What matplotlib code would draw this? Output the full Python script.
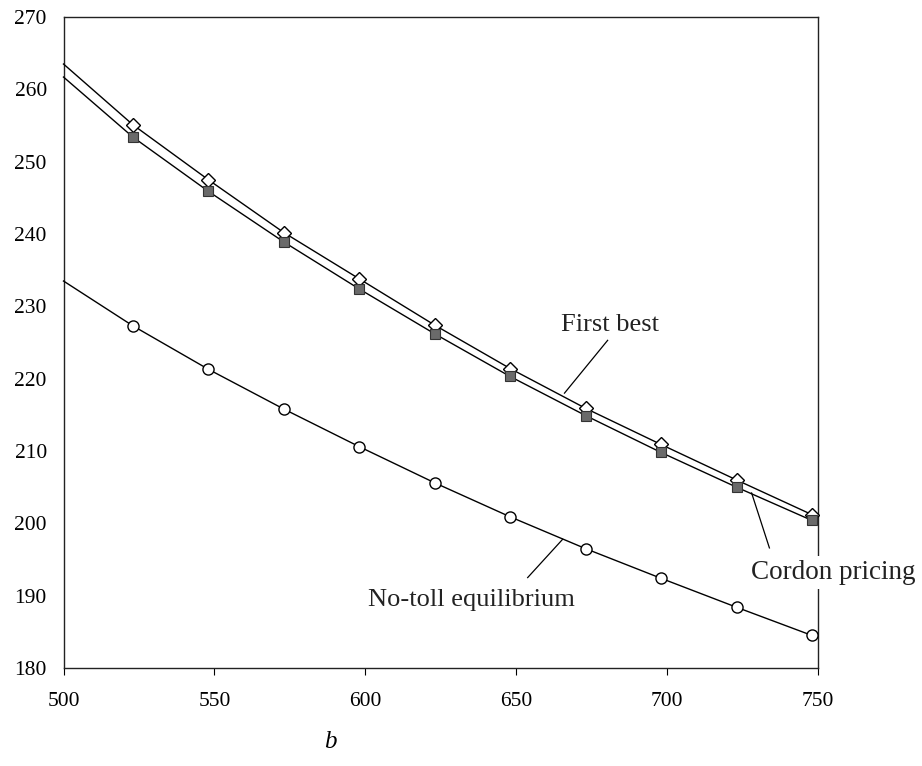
import matplotlib
matplotlib.use("Agg")
import matplotlib.pyplot as plt

# toll level b on the x axis; line starts at the axis edge, markers every 25
b_line_start = 500
b_marks = [523, 548, 573, 598, 623, 648, 673, 698, 723, 748]

first_best_start = 263.5
first_best = [255.1, 247.5, 240.2, 233.8, 227.4, 221.4, 215.9, 210.9, 206.0, 201.2]

cordon_start = 261.7
cordon = [253.4, 245.9, 238.9, 232.4, 226.2, 220.3, 214.9, 209.8, 205.0, 200.4]

no_toll_start = 233.5
no_toll = [227.3, 221.3, 215.8, 210.6, 205.6, 200.9, 196.5, 192.4, 188.4, 184.5]

plt.rcParams["font.family"] = ["Liberation Serif", "DejaVu Serif"]

fig = plt.figure(figsize=(9.22, 7.66), dpi=100, facecolor="white")
ax = fig.add_axes([63.5 / 922, 1 - 668 / 766, (818 - 63.5) / 922, (668 - 17) / 766])

xs = [b_line_start] + b_marks
ax.plot(xs, [first_best_start] + first_best, color="black", lw=1.0, zorder=3, clip_on=False)
ax.plot(b_marks, first_best, ls="none", marker="D", ms=7, mfc="white", mec="black", mew=1.0, zorder=4, clip_on=False)

ax.plot(xs, [cordon_start] + cordon, color="black", lw=1.0, zorder=3, clip_on=False)
ax.plot(b_marks, cordon, ls="none", marker="s", ms=7.5, mfc="#6a6a6a", mec="#333333", mew=0.8, zorder=5, clip_on=False)

ax.plot(xs, [no_toll_start] + no_toll, color="black", lw=1.0, zorder=3, clip_on=False)
ax.plot(b_marks, no_toll, ls="none", marker="o", ms=8, mfc="white", mec="black", mew=1.0, zorder=4, clip_on=False)

ax.set_xlim(500, 750)
ax.set_ylim(180, 270)
ax.set_xticks(range(500, 751, 50))
ax.set_yticks(range(180, 271, 10))
ax.tick_params(axis="x", direction="out", length=5, width=0.8, pad=12, labelsize=15.5)
ax.tick_params(axis="y", length=0, pad=12, labelsize=15.5)
for side in ["left", "bottom", "top", "right"]:
    ax.spines[side].set_linewidth(1.0)
    ax.spines[side].set_color("#222222")

# curve labels with leader lines
ax.plot([680.3, 666.0], [225.3, 218.0], color="black", lw=0.9, zorder=3)
ax.text(681, 227.4, "First best", fontsize=19, ha="center", va="center", color="#222222")

ax.plot([733.9, 728.0], [196.6, 204.2], color="black", lw=0.9, zorder=3)
ax.text(755, 193.2, "Cordon pricing", fontsize=19.5, ha="center", va="center", color="#222222",
        zorder=6, clip_on=False, bbox=dict(boxstyle="square,pad=0.15", fc="white", ec="none"))

ax.plot([653.8, 665.4], [192.5, 197.8], color="black", lw=0.9, zorder=3)
ax.text(635.3, 189.4, "No-toll equilibrium", fontsize=19, ha="center", va="center", color="#222222")

fig.text(330 / 922, 1 - 742 / 766, "b", fontsize=18, style="italic", ha="center", va="center")

fig.savefig("out.png", dpi=100, facecolor="white")
